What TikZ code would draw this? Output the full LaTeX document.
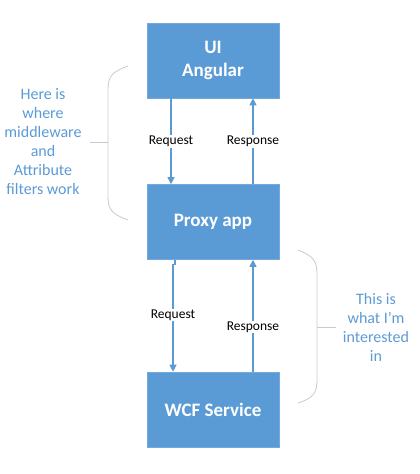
\documentclass[tikz,border=0pt]{standalone}
\usepackage{fontspec}
\setmainfont{Carlito}
\usetikzlibrary{arrows.meta}
\definecolor{boxblue}{HTML}{5B9BD5}
\definecolor{txtblue}{HTML}{5B9BD5}
\definecolor{bracegray}{HTML}{C5CBD3}
\tikzset{
  box/.style={fill=boxblue, draw=boxblue!85!white, line width=0.6pt, minimum width=132pt, minimum height=75pt, inner sep=0pt, text=white, font=\fontsize{19}{23}\selectfont\bfseries, align=center},
  conn/.style={draw=boxblue, line width=1.1pt, -{Triangle[length=7pt,width=7pt]}},
  lbl/.style={fill=white, inner sep=1pt, font=\fontsize{13.5}{15}\selectfont, text=black},
  note/.style={text=txtblue, font=\fontsize{16}{19}\selectfont, align=center},
  bracel/.style={draw=bracegray, line width=0.8pt}
}
\begin{document}
\begin{tikzpicture}[x=1pt,y=-1pt]
\useasboundingbox (0,0) rectangle (420,474);
\node[box] (ui) at (213,60.5) {UI\\Angular};
\node[box] (proxy) at (213,222) {Proxy app};
\node[box] (wcf) at (213,409.5) {WCF Service};
% arrows top
\draw[conn] ([xshift=-42pt]ui.south) -- ([xshift=-42pt]proxy.north) node[lbl, pos=0.5] (rq1) {Request};
\draw[conn] ([xshift=40pt]proxy.north) -- ([xshift=40pt]ui.south) node[lbl, pos=0.5] (rs1) {Response};
% arrows bottom
\draw[conn] ([xshift=-38pt]proxy.south) -- ++(0,5) -- ++(-2,0) -- ([xshift=-40pt]wcf.north) node[lbl, pos=0.47] (rq2) {Request};
\draw[conn] ([xshift=40pt]wcf.north) -- ([xshift=40pt]proxy.south) node[lbl, pos=0.4] (rs2) {Response};
% left brace
\coordinate (lt) at (128,66);
\coordinate (lb) at (128,220);
\coordinate (lm) at (90,142);
\draw[bracel] (lt) .. controls (112,72) and (108,76) .. (108,90) -- (108,196) .. controls (108,210) and (112,214) .. (lb);
\draw[bracel] (lm) -- (108,142);
\node[note] (leftnote) at (43,142) {Here is\\where\\middleware\\and\\Attribute\\filters work};
% right brace
\coordinate (rt) at (298,250);
\coordinate (rb) at (298,403);
\coordinate (rm) at (336,327);
\draw[bracel] (rt) .. controls (314,256) and (317,262) .. (317,274) -- (317,380) .. controls (317,392) and (314,398) .. (rb);
\draw[bracel] (317,327) -- (rm);
\node[note] (rightnote) at (376,327) {This is\\what I’m\\interested\\in};
\end{tikzpicture}
\end{document}
